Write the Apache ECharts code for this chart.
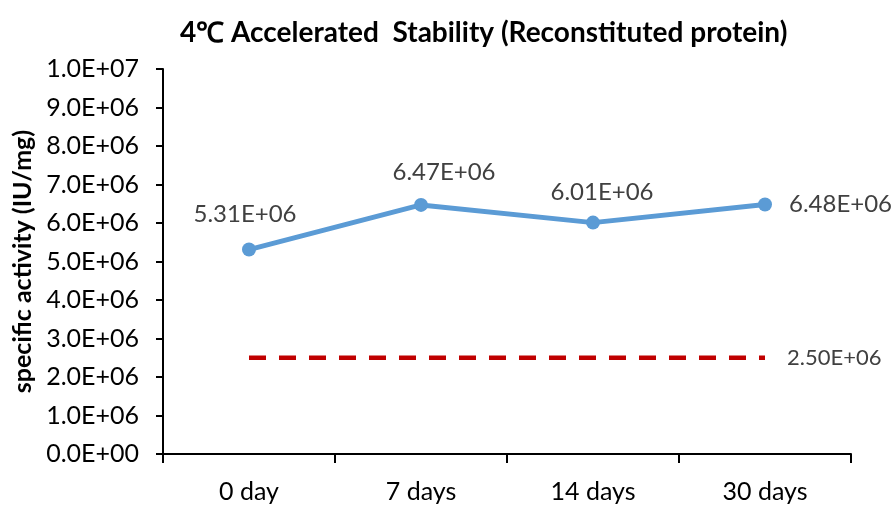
<!DOCTYPE html>
<html><head><meta charset="utf-8">
<script src="https://cdn.jsdelivr.net/npm/echarts@6/dist/echarts.min.js"></script>
<style>html,body{margin:0;padding:0;background:#fff}#c{width:896px;height:508px}</style>
</head><body><div id="c"></div>
<script>
const categories = ['0 day', '7 days', '14 days', '30 days'];
const activity = [5.31e6, 6.47e6, 6.01e6, 6.48e6];
const threshold = [2.5e6, 2.5e6, 2.5e6, 2.5e6];
const titleText = '4\u2103 Accelerated  Stability (Reconstituted protein)';
const yName = 'specific activity (IU/mg)';

function fmtExp(v, d) {
  const s = Number(v).toExponential(d);
  const [m, e] = s.split('e');
  const sign = e[0] === '-' ? '-' : '+';
  const n = Math.abs(parseInt(e, 10));
  return m + 'E' + sign + (n < 10 ? '0' + n : '' + n);
}
const FONT = 'Lato';
const labelPos = [
  {position: 'top', offset: [-4, -11]},
  {position: 'top', offset: [23, -9]},
  {position: 'top', offset: [9, -6]},
  {position: 'right', offset: [12, 0]}
];
const chart = echarts.init(document.getElementById('c'));
chart.setOption({
  animation: false,
  title: {text: titleText, left: 175, top: 14,
    textStyle: {fontFamily: FONT, fontWeight: 'bold', fontSize: 28, color: '#000'}},
  grid: {left: 163, right: 45, top: 69, bottom: 54},
  xAxis: {type: 'category', data: categories, boundaryGap: true,
    axisLine: {lineStyle: {color: '#000', width: 2}},
    axisTick: {show: true, length: 9, lineStyle: {color: '#000', width: 2}},
    axisLabel: {fontFamily: FONT, fontSize: 25, color: '#000', margin: 25}},
  yAxis: {type: 'value', min: 0, max: 1e7, interval: 1e6,
    name: yName, nameLocation: 'middle', nameRotate: 90, nameGap: 125,
    nameTextStyle: {fontFamily: FONT, fontWeight: 'bold', fontSize: 25, color: '#000'},
    axisLine: {show: true, lineStyle: {color: '#000', width: 2}},
    axisTick: {show: true, length: 7, lineStyle: {color: '#000', width: 2}},
    splitLine: {show: false},
    axisLabel: {fontFamily: FONT, fontSize: 25, color: '#000', margin: 24,
      formatter: v => fmtExp(v, 1)}},
  series: [
    {type: 'line', data: threshold, symbol: 'none',
      lineStyle: {color: '#C00000', width: 4.5, type: [17, 13]},
      endLabel: {show: true, distance: 5, offset: [17, 0], fontFamily: FONT, fontSize: 22, color: '#404040',
        formatter: p => fmtExp(p.value, 2)}},
    {type: 'line', symbol: 'circle', symbolSize: 14,
      data: activity.map((v, i) => ({value: v, label: labelPos[i]})),
      lineStyle: {color: '#5B9BD5', width: 5},
      itemStyle: {color: '#5B9BD5'},
      label: {show: true, fontFamily: FONT, fontSize: 24, color: '#404040',
        formatter: p => fmtExp(p.value, 2)}}
  ]
});
</script></body></html>
